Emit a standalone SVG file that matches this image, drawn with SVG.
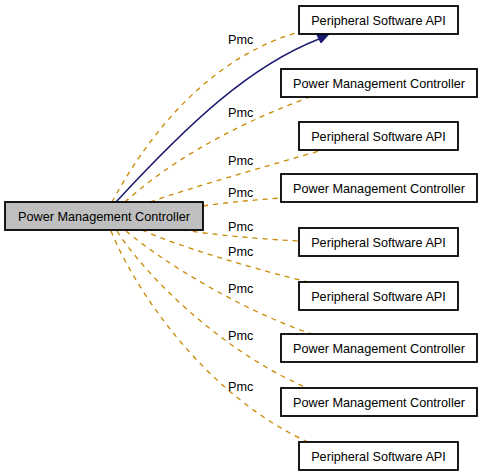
<svg xmlns="http://www.w3.org/2000/svg" width="483" height="476" viewBox="0 0 483 476">
<style>
.node rect{fill:#ffffff;stroke:#000000;stroke-width:1.8}
#main rect{fill:#bfbfbf}
text{font-family:"Liberation Sans",Arial,sans-serif;font-size:12.7px;fill:#000000}
.node text{text-anchor:middle}
.dash{fill:none;stroke:#c98800;stroke-width:1.3;stroke-dasharray:5,5}
.solid{fill:none;stroke:#191970;stroke-width:1.4}
</style>
<rect width="483" height="476" fill="#ffffff"/>
<g id="connectors">
<path class="solid" d="M116,202 C190,122 250,66 319,39"/>
<polygon points="330,33 317,35 321,43" fill="#191970" stroke="#191970" stroke-width="1"/>
<path class="dash" d="M112,202 C140,150 200,60 299,32"/>
<path class="dash" d="M125,202 C160,170 220,130 310,97"/>
<path class="dash" d="M150,202 C190,188 270,165 323,150"/>
<path class="dash" d="M203,206 C230,202 255,200 281,198"/>
<path class="dash" d="M183,230 C215,235 260,239 299,241"/>
<path class="dash" d="M142,230 C175,245 250,268 308,282"/>
<path class="dash" d="M126,231 C160,260 240,310 312,334"/>
<path class="dash" d="M117,231 C145,275 220,350 305,387"/>
<path class="dash" d="M111,231 C135,290 205,395 308,442"/>
<text x="228" y="44">Pmc</text>
<text x="228" y="117">Pmc</text>
<text x="228" y="165">Pmc</text>
<text x="228" y="197">Pmc</text>
<text x="228" y="231">Pmc</text>
<text x="228" y="256">Pmc</text>
<text x="228" y="293">Pmc</text>
<text x="228" y="340">Pmc</text>
<text x="228" y="391">Pmc</text>
</g>
<g id="main" class="node"><rect x="5" y="202" width="198" height="28"/><text x="104" y="220.5">Power Management Controller</text></g>
<g id="n1" class="node"><rect x="299" y="6" width="159" height="28"/><text x="378.5" y="24.5">Peripheral Software API</text></g>
<g id="n2" class="node"><rect x="281" y="69" width="196" height="28"/><text x="379" y="87.5">Power Management Controller</text></g>
<g id="n3" class="node"><rect x="299" y="122" width="159" height="28"/><text x="378.5" y="140.5">Peripheral Software API</text></g>
<g id="n4" class="node"><rect x="281" y="174" width="196" height="28"/><text x="379" y="192.5">Power Management Controller</text></g>
<g id="n5" class="node"><rect x="299" y="228" width="159" height="28"/><text x="378.5" y="246.5">Peripheral Software API</text></g>
<g id="n6" class="node"><rect x="299" y="282" width="159" height="28"/><text x="378.5" y="300.5">Peripheral Software API</text></g>
<g id="n7" class="node"><rect x="281" y="334" width="196" height="28"/><text x="379" y="352.5">Power Management Controller</text></g>
<g id="n8" class="node"><rect x="281" y="388" width="196" height="28"/><text x="379" y="406.5">Power Management Controller</text></g>
<g id="n9" class="node"><rect x="299" y="442" width="159" height="28"/><text x="378.5" y="460.5">Peripheral Software API</text></g>
</svg>
